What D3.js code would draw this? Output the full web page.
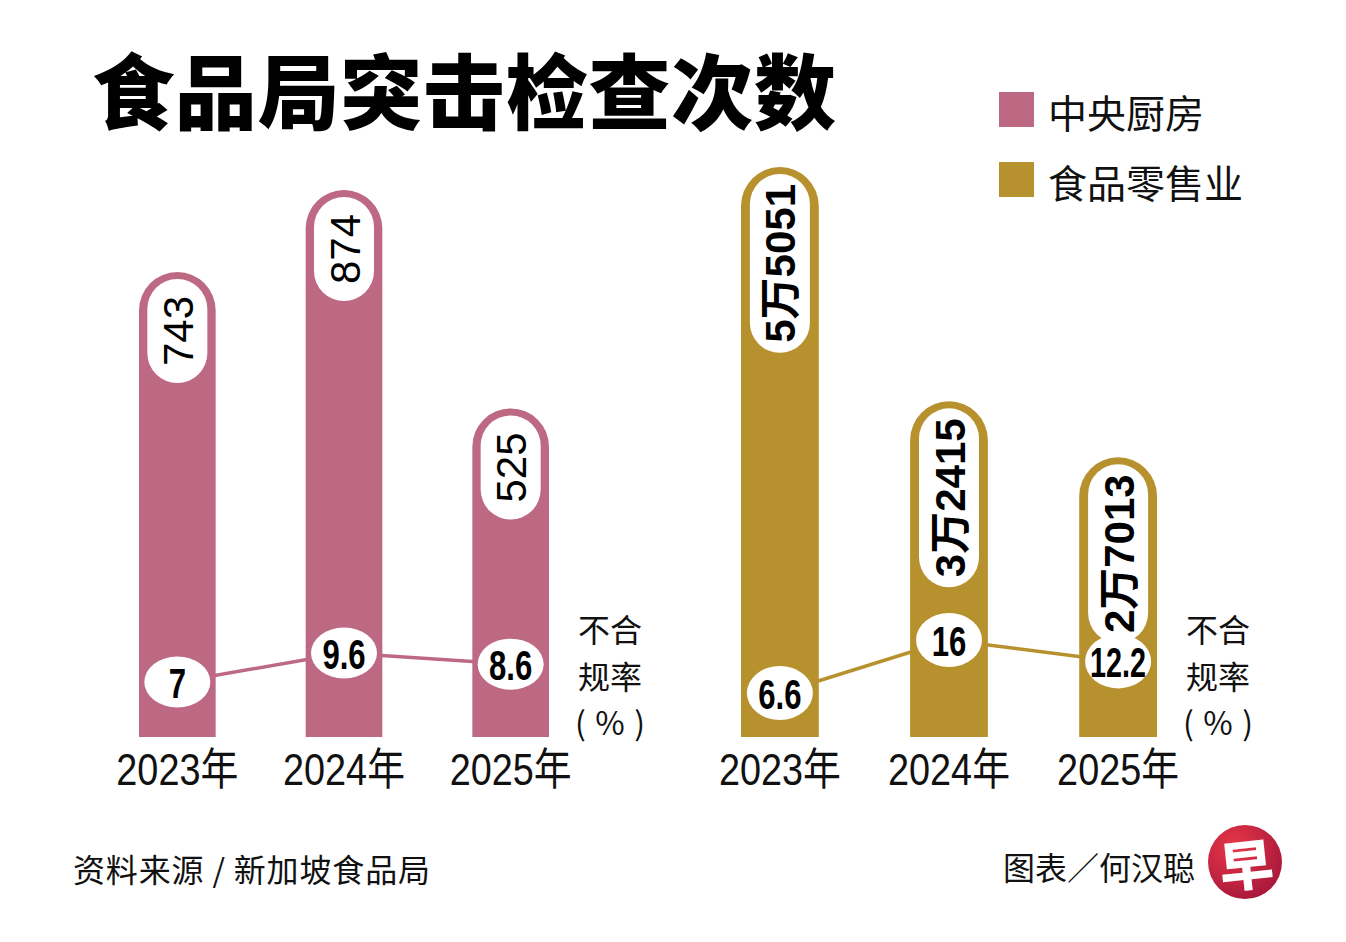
<!DOCTYPE html>
<html>
<head>
<meta charset="utf-8">
<script src="https://cdn.jsdelivr.net/npm/d3@7"></script>
<style>
  html,body{margin:0;padding:0;background:#fff;}
  svg{display:block;}
</style>
</head>
<body>
<script>
// ---------- data ----------
const years = ["2023年", "2024年", "2025年"];
const kitchenVisits = [743, 874, 525];        // 中央厨房 检查次数
const kitchenRates  = [7, 9.6, 8.6];          // 中央厨房 不合规率 %
const retailVisits  = [55051, 32415, 27013];  // 食品零售业 检查次数
const retailRates   = [6.6, 16, 12.2];        // 食品零售业 不合规率 %
const seriesNames   = ["中央厨房", "食品零售业"];
const titleText  = "食品局突击检查次数";
const rateLabel  = ["不合", "规率", "(%)"];
const sourceText = "资料来源 / 新加坡食品局";
const creditText = "图表／何汉聪";

// ---------- setup ----------
const W = 1346, H = 942;
const PINK = "#BE6983", GOLD = "#B8912F";
const CJK = "'Noto Sans CJK SC','Noto Sans',sans-serif";
const NUM = "'Liberation Sans','Arial','Noto Sans CJK SC',sans-serif";

const svg = d3.select("body").append("svg").attr("width", W).attr("height", H);
svg.append("rect").attr("width", W).attr("height", H).attr("fill", "#fff");

const defs = svg.append("defs");
const grad = defs.append("radialGradient").attr("id", "logoGrad").attr("cx", "35%").attr("cy", "30%").attr("r", "75%");
grad.append("stop").attr("offset", "0%").attr("stop-color", "#e8384a");
grad.append("stop").attr("offset", "100%").attr("stop-color", "#a8173a");

// title
svg.append("text").attr("x", 92).attr("y", 87)
  .attr("dominant-baseline", "central")
  .attr("font-family", CJK).attr("font-weight", 900).attr("font-size", 82)
  .attr("fill", "#000")
  .attr("textLength", 744).attr("lengthAdjust", "spacing")
  .text(titleText);

// legend
const legend = svg.append("g");
[PINK, GOLD].forEach((c, i) => {
  const ly = 92 + i * 70;
  legend.append("rect").attr("x", 999).attr("y", ly).attr("width", 35).attr("height", 35).attr("fill", c);
  legend.append("text").attr("x", 1048).attr("y", ly + 18.5)
    .attr("dominant-baseline", "central")
    .attr("font-family", CJK).attr("font-size", 39).attr("fill", "#111")
    .text(seriesNames[i]);
});

const baseY = 737;

function drawGroup(cfg) {
  const g = svg.append("g");
  const x = d3.scaleBand().domain(years).range(cfg.xRange).paddingInner(0.54).paddingOuter(0);
  const y = d3.scaleLinear().domain([0, d3.max(cfg.visits)]).range([baseY, baseY - cfg.maxH]);
  const ry = d3.scaleLinear().domain(d3.extent(cfg.rates)).range(cfg.rateRange);
  const bw = x.bandwidth();
  const r = bw / 2;

  // bars with rounded tops
  g.selectAll("path.bar").data(cfg.visits).join("path")
    .attr("class", "bar")
    .attr("fill", cfg.color)
    .attr("d", (d, i) => {
      const x0 = x(years[i]), top = y(d);
      return `M${x0},${baseY} V${top + r} A${r},${r} 0 0 1 ${x0 + bw},${top + r} V${baseY} Z`;
    });

  // value labels (rotated, in white pill boxes)
  cfg.visits.forEach((d, i) => {
    const cx = x(years[i]) + bw / 2;
    const lg = g.append("g");
    const rect = lg.append("rect");
    const t = lg.append("text")
      .attr("text-anchor", "middle").attr("dominant-baseline", "central")
      .attr("font-family", NUM).attr("font-size", cfg.labelSize).attr("font-weight", cfg.labelWeight)
      .attr("fill", "#000")
      .text(cfg.fmt(d));
    const len = t.node().getComputedTextLength();
    const boxW = 60, boxH = len + 2 * cfg.pad;
    const boxTop = y(d) + 7;
    rect.attr("x", cx - boxW / 2).attr("y", boxTop).attr("width", boxW).attr("height", boxH)
      .attr("rx", boxW / 2).attr("ry", boxW / 2).attr("fill", "#fff");
    t.attr("transform", `translate(${cx + 1},${boxTop + boxH / 2}) rotate(-90)`);
  });

  // rate line
  const pts = cfg.rates.map((v, i) => [x(years[i]) + bw / 2, ry(v)]);
  g.append("path").attr("d", d3.line()(pts)).attr("fill", "none")
    .attr("stroke", cfg.color).attr("stroke-width", 3.5);

  // rate ellipses
  cfg.rates.forEach((v, i) => {
    const [cx, cy] = pts[i];
    g.append("ellipse").attr("cx", cx).attr("cy", cy).attr("rx", 33).attr("ry", cfg.ellRy).attr("fill", "#fff");
    const t = g.append("text").attr("x", cx).attr("y", cy + 1)
      .attr("text-anchor", "middle").attr("dominant-baseline", "central")
      .attr("font-family", NUM).attr("font-weight", "bold").attr("font-size", 42)
      .attr("fill", "#000").text(String(v));
    const len = t.node().getComputedTextLength();
    t.attr("textLength", Math.min(len * 0.74, 56)).attr("lengthAdjust", "spacingAndGlyphs");
  });

  // year labels
  years.forEach((yr, i) => {
    g.append("text").attr("x", x(yr) + bw / 2).attr("y", 769)
      .attr("text-anchor", "middle").attr("dominant-baseline", "central")
      .attr("font-family", NUM).attr("font-size", 44).attr("fill", "#111")
      .attr("textLength", 122).attr("lengthAdjust", "spacingAndGlyphs")
      .text(yr);
  });

  // 不合规率（%）: three stacked lines
  const rx = x(years[2]) + bw + 61;
  rateLabel.forEach((s, k) => {
    const ts = g.append("text").attr("x", rx).attr("y", 628 + k * 46.5)
      .attr("text-anchor", "middle").attr("dominant-baseline", "central")
      .attr("font-family", CJK).attr("font-size", 32).attr("fill", "#111")
      .text(s);
    if (k === 2) ts.attr("textLength", 70).attr("lengthAdjust", "spacing");
  });
}

drawGroup({
  visits: kitchenVisits, rates: kitchenRates, color: PINK,
  xRange: [139, 549], maxH: 547, rateRange: [682, 653],
  labelSize: 42, labelWeight: "normal", pad: 17, ellRy: 25.5,
  fmt: d => String(d)
});

drawGroup({
  visits: retailVisits, rates: retailRates, color: GOLD,
  xRange: [741, 1157], maxH: 570, rateRange: [693, 640],
  labelSize: 42, labelWeight: "bold", pad: 10, ellRy: 27,
  fmt: d => Math.floor(d / 10000) + "万" + String(d % 10000).padStart(4, "0")
});

// footer
svg.append("text").attr("x", 73).attr("y", 868)
  .attr("dominant-baseline", "central")
  .attr("font-family", CJK).attr("font-size", 32).attr("fill", "#111")
  .attr("textLength", 357).attr("lengthAdjust", "spacing")
  .text(sourceText);
svg.append("text").attr("x", 1003).attr("y", 866)
  .attr("dominant-baseline", "central")
  .attr("font-family", CJK).attr("font-size", 32).attr("fill", "#111")
  .text(creditText);

// logo
svg.append("circle").attr("cx", 1245).attr("cy", 862).attr("r", 37).attr("fill", "url(#logoGrad)");
svg.append("text").attr("x", 1246).attr("y", 862)
  .attr("text-anchor", "middle").attr("dominant-baseline", "central")
  .attr("font-family", CJK).attr("font-weight", 900).attr("font-size", 54)
  .attr("fill", "#fff").attr("transform", "rotate(-6,1246,862)")
  .text("早");
</script>
</body>
</html>
